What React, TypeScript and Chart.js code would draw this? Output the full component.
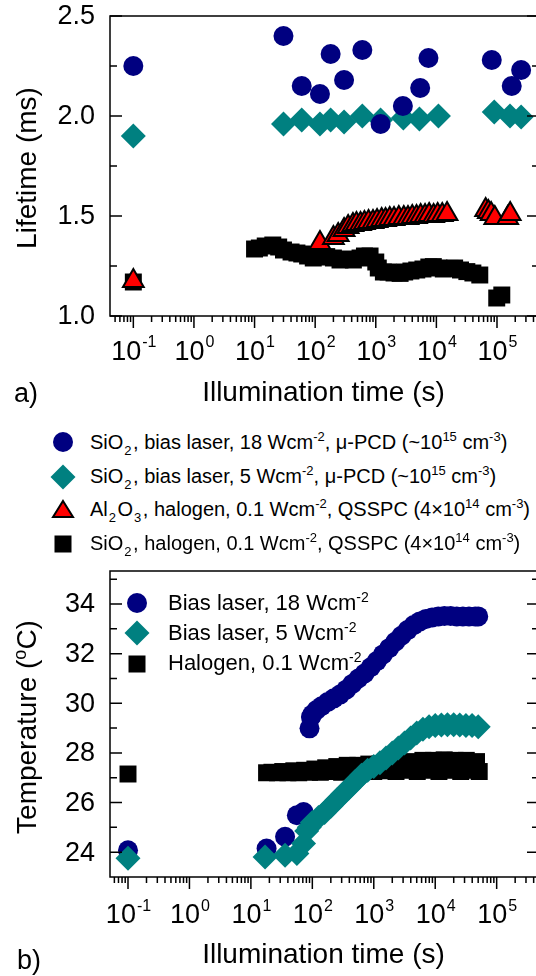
import React, { useEffect, useRef } from "react";
import { Chart, registerables } from "chart.js";

Chart.register(...registerables);

const FONT = '"Liberation Sans", Arial, Helvetica, sans-serif';
const NAVY = "#000080";
const TEAL = "#008080";
const RED = "#ff0000";
const BLACK = "#000000";

// ---------- a) effective lifetime (ms) vs illumination time (s) ----------
const laser18Time = [0.1, 30, 60, 120, 180, 300, 600, 1200, 2800, 5400, 7400, 82000, 175000, 250000];
const laser18Life = [2.25, 2.4, 2.15, 2.11, 2.31, 2.18, 2.33, 1.96, 2.05, 2.14, 2.29, 2.28, 2.15, 2.23];

const laser5Time = [0.1, 30, 60, 120, 180, 300, 600, 1200, 2850, 5250, 10800, 90000, 164000, 250000];
const laser5Life = [1.9, 1.96, 1.98, 1.96, 1.98, 1.97, 2.0, 1.98, 1.99, 1.985, 2.0, 2.02, 2.0, 1.995];

const alHalogenTime = [
  0.1, 120, 200, 240, 300, 350, 420, 480, 560, 650, 760, 900, 1050, 1250, 1450, 1700, 2000, 2400,
  2900, 3400, 4000, 4700, 5500, 6500, 7600, 9000, 10500, 12500, 15000, 65000, 72000, 80000, 92000,
  150000, 165000,
];
const alHalogenLife = [
  1.175, 1.365, 1.39, 1.405, 1.43, 1.445, 1.455, 1.46, 1.46, 1.465, 1.47, 1.47, 1.475, 1.48, 1.48,
  1.485, 1.485, 1.49, 1.49, 1.49, 1.495, 1.495, 1.5, 1.5, 1.505, 1.5, 1.505, 1.505, 1.51, 1.53, 1.52,
  1.51, 1.49, 1.49, 1.51,
];

const sioHalogenTime = [
  0.1, 10, 12, 15, 20, 25, 30, 40, 50, 60, 75, 93, 120, 155, 200, 257, 330, 427, 550, 650, 805, 1000,
  1100, 1335, 1600, 2000, 2520, 3000, 3800, 4740, 6000, 7500, 8900, 11000, 13000, 16800, 20000, 25000,
  31800, 40000, 52000, 99000, 120000,
];
const sioHalogenLife = [
  1.17, 1.335, 1.34, 1.35, 1.355, 1.345, 1.33, 1.32, 1.315, 1.31, 1.3, 1.29, 1.295, 1.297, 1.29, 1.28,
  1.285, 1.28, 1.29, 1.3, 1.3, 1.27, 1.24, 1.22, 1.22, 1.215, 1.213, 1.22, 1.225, 1.23, 1.235, 1.245,
  1.247, 1.24, 1.235, 1.238, 1.24, 1.23, 1.222, 1.215, 1.205, 1.09, 1.105,
];

const lifeMajor = [1.0, 1.5, 2.0, 2.5];
const lifeMinor = [1.25, 1.75, 2.25];

// ---------- b) sample temperature (°C) vs illumination time (s) ----------
const temp18Time = [
  0.1, 18, 36, 56, 72, 90, 95, 100, 117, 141, 178, 224, 282, 355, 447, 562, 708, 891, 1120, 1410,
  1780, 2240, 2820, 3550, 4470, 5620, 7080, 8910, 11200, 14100, 17800, 22400, 28200, 35500, 44700,
  50100,
];
const temp18 = [
  24.08, 24.15, 24.62, 25.49, 25.62, 28.99, 29.45, 29.55, 29.73, 29.88, 30.05, 30.2, 30.35, 30.55,
  30.78, 31.0, 31.2, 31.45, 31.7, 31.97, 32.22, 32.48, 32.72, 32.95, 33.15, 33.3, 33.4, 33.46, 33.5,
  33.52, 33.52, 33.5, 33.5, 33.5, 33.5, 33.5,
];

const temp5Time = [
  0.1, 17, 36, 56, 72, 81, 89, 100, 126, 158, 200, 251, 316, 398, 501, 631, 794, 1000, 1260, 1580,
  2000, 2510, 3160, 3980, 5010, 6310, 7940, 10000, 12600, 15800, 20000, 25100, 31600, 39800, 50100,
];
const temp5 = [
  23.76, 23.81, 23.88, 23.95, 24.35, 24.85, 25.0, 25.2, 25.4, 25.6, 25.85, 26.1, 26.35, 26.6, 26.85,
  27.1, 27.3, 27.45, 27.6, 27.8, 28.0, 28.2, 28.4, 28.6, 28.8, 28.95, 29.05, 29.1, 29.12, 29.13,
  29.13, 29.12, 29.1, 29.1, 29.05,
];

const tempHalogenTime = [
  0.1, 18, 22, 27, 33, 40, 50, 60, 75, 90, 110, 135, 165, 200, 250, 300, 370, 450, 550, 680, 830,
  1000, 1250, 1500, 1850, 2300, 2800, 3400, 4200, 5100, 6300, 7700, 9400, 11500, 14000, 17000, 21000,
  26000, 32000, 39000, 47000, 52000,
];
const tempHalogen = [
  27.15, 27.2, 27.22, 27.2, 27.25, 27.2, 27.28, 27.2, 27.3, 27.22, 27.35, 27.22, 27.4, 27.25, 27.45,
  27.22, 27.5, 27.25, 27.5, 27.25, 27.55, 27.25, 27.55, 27.28, 27.6, 27.25, 27.6, 27.3, 27.65, 27.25,
  27.7, 27.3, 27.7, 27.25, 27.72, 27.3, 27.7, 27.25, 27.7, 27.3, 27.65, 27.25,
];

const tempMajor = [24, 26, 28, 30, 32, 34];
const tempMinor = [25, 27, 29, 31, 33, 35];

const decadeExponents = [-1, 0, 1, 2, 3, 4, 5];

const pts = (xs: number[], ys: number[]) => xs.map((x, i) => ({ x, y: ys[i] }));

type Seg = { t: string; sup?: boolean };

type FrameOpts = {
  yMajor: number[];
  yMinor: number[];
  yDigits: number;
  labelBase: number;
  supBase: number;
  xTitle: string;
  xTitleBase: number;
  yTitle: Seg[];
  yTitleCenter: number;
  panel: string;
  panelX: number;
  panelBase: number;
};

function framePlugin(o: FrameOpts) {
  return {
    id: "frame",
    afterDatasetsDraw(chart: any) {
      const { ctx, chartArea: a, scales } = chart;
      const xs = scales.x;
      const ys = scales.y;
      ctx.save();
      ctx.strokeStyle = BLACK;
      ctx.fillStyle = BLACK;
      ctx.lineWidth = 1.5;
      ctx.strokeRect(a.left, a.top, a.right - a.left, a.bottom - a.top);

      ctx.beginPath();
      const yTick = (v: number, len: number) => {
        const y = ys.getPixelForValue(v);
        ctx.moveTo(a.left, y);
        ctx.lineTo(a.left + len, y);
        ctx.moveTo(a.right, y);
        ctx.lineTo(a.right - len, y);
      };
      o.yMajor.forEach((v) => yTick(v, 12));
      o.yMinor.forEach((v) => yTick(v, 7));

      const lo = Math.floor(Math.log10(xs.min));
      const hi = Math.ceil(Math.log10(xs.max));
      for (let e = lo; e <= hi; e++) {
        for (let k = 1; k <= 9; k++) {
          const v = k * Math.pow(10, e);
          if (v < xs.min || v > xs.max) continue;
          const x = xs.getPixelForValue(v);
          ctx.moveTo(x, a.bottom);
          ctx.lineTo(x, a.bottom + (k === 1 ? 12 : 6));
        }
      }
      ctx.stroke();

      // y tick labels
      ctx.font = `27px ${FONT}`;
      ctx.textAlign = "right";
      ctx.textBaseline = "middle";
      o.yMajor.forEach((v) => {
        ctx.fillText(v.toFixed(o.yDigits), a.left - 15, ys.getPixelForValue(v) + 1);
      });

      // x tick labels: 10 with a raised exponent
      ctx.textAlign = "left";
      ctx.textBaseline = "alphabetic";
      decadeExponents.forEach((e) => {
        const x = xs.getPixelForValue(Math.pow(10, e));
        const exp = String(e);
        ctx.font = `27px ${FONT}`;
        const w1 = ctx.measureText("10").width;
        ctx.font = `16px ${FONT}`;
        const w2 = ctx.measureText(exp).width;
        const x0 = x - (w1 + w2) / 2;
        ctx.font = `27px ${FONT}`;
        ctx.fillText("10", x0, o.labelBase);
        ctx.font = `16px ${FONT}`;
        ctx.fillText(exp, x0 + w1 + 1, o.supBase);
      });

      // axis titles
      ctx.font = `28px ${FONT}`;
      ctx.textAlign = "center";
      ctx.fillText(o.xTitle, (a.left + 539) / 2 - 1, o.xTitleBase);

      ctx.save();
      ctx.translate(28, o.yTitleCenter);
      ctx.rotate(-Math.PI / 2);
      ctx.textAlign = "left";
      ctx.textBaseline = "middle";
      const widths = o.yTitle.map((s) => {
        ctx.font = s.sup ? `18px ${FONT}` : `28px ${FONT}`;
        return ctx.measureText(s.t).width;
      });
      let cx = -widths.reduce((p, c) => p + c, 0) / 2;
      o.yTitle.forEach((s, i) => {
        ctx.font = s.sup ? `18px ${FONT}` : `28px ${FONT}`;
        ctx.fillText(s.t, cx, s.sup ? -7 : 0);
        cx += widths[i];
      });
      ctx.restore();

      // panel letter
      ctx.font = `27px ${FONT}`;
      ctx.textAlign = "left";
      ctx.textBaseline = "alphabetic";
      ctx.fillText(o.panel, o.panelX, o.panelBase);
      ctx.restore();
    },
  };
}

type PanelProps = {
  top: number;
  height: number;
  padding: { left: number; top: number; right: number; bottom: number };
  xMin: number;
  xMax: number;
  yMin: number;
  yMax: number;
  datasets: any[];
  frame: FrameOpts;
};

const CANVAS_W = 560;

function Panel(p: PanelProps) {
  const ref = useRef<HTMLCanvasElement | null>(null);
  useEffect(() => {
    if (!ref.current) return;
    const chart = new Chart(ref.current, {
      type: "scatter",
      data: { datasets: p.datasets },
      options: {
        responsive: false,
        animation: false,
        devicePixelRatio: 1,
        events: [],
        layout: { padding: p.padding },
        plugins: { legend: { display: false }, tooltip: { enabled: false } },
        scales: {
          x: { type: "logarithmic", min: p.xMin, max: p.xMax, display: false },
          y: { type: "linear", min: p.yMin, max: p.yMax, display: false },
        },
      },
      plugins: [framePlugin(p.frame)],
    } as any);
    return () => chart.destroy();
  }, []);
  return (
    <canvas
      ref={ref}
      width={CANVAS_W}
      height={p.height}
      style={{ position: "absolute", left: 0, top: p.top, width: CANVAS_W, height: p.height }}
    />
  );
}

const marker = (style: string, radius: number, fill: string, border = fill, bw = 0, order = 0) => ({
  pointStyle: style,
  pointRadius: radius,
  pointBackgroundColor: fill,
  pointBorderColor: border,
  pointBorderWidth: bw,
  backgroundColor: fill,
  borderColor: border,
  order,
  clip: false,
});

const lifetimeSets = [
  { label: "SiO2, bias laser, 18 Wcm-2", data: pts(laser18Time, laser18Life), ...marker("circle", 10, NAVY, NAVY, 0, 0) },
  { label: "SiO2, bias laser, 5 Wcm-2", data: pts(laser5Time, laser5Life), ...marker("rectRot", 12.5, TEAL, TEAL, 0, 1) },
  { label: "Al2O3, halogen, 0.1 Wcm-2", data: pts(alHalogenTime, alHalogenLife), ...marker("triangle", 12, RED, BLACK, 2, 2) },
  { label: "SiO2, halogen, 0.1 Wcm-2", data: pts(sioHalogenTime, sioHalogenLife), ...marker("rect", 12, BLACK, BLACK, 0, 3) },
];

const temperatureSets = [
  { label: "Bias laser, 18 Wcm-2", data: pts(temp18Time, temp18), ...marker("circle", 10, NAVY, NAVY, 0, 1) },
  { label: "Bias laser, 5 Wcm-2", data: pts(temp5Time, temp5), ...marker("rectRot", 12.5, TEAL, TEAL, 0, 0) },
  { label: "Halogen, 0.1 Wcm-2", data: pts(tempHalogenTime, tempHalogen), ...marker("rect", 12, BLACK, BLACK, 0, 2) },
];

const Sub = ({ children, size }: { children: React.ReactNode; size: number }) => (
  <span style={{ fontSize: size, position: "relative", top: 6, lineHeight: 0, margin: "0 1.5px 0 1px" }}>
    {children}
  </span>
);
const Sup = ({ children, size }: { children: React.ReactNode; size: number }) => (
  <span style={{ fontSize: size, position: "relative", top: -8, lineHeight: 0 }}>{children}</span>
);

function Marker({ kind, x, y }: { kind: string; x: number; y: number }) {
  const s = 30;
  const c = s / 2;
  let shape: React.ReactNode = null;
  if (kind === "circle") shape = <circle cx={c} cy={c} r={10} fill={NAVY} />;
  if (kind === "diamond")
    shape = <polygon points={`${c - 12.5},${c} ${c},${c - 12.5} ${c + 12.5},${c} ${c},${c + 12.5}`} fill={TEAL} />;
  if (kind === "triangle")
    shape = (
      <polygon
        points={`${c},${c - 9} ${c + 10},${c + 7} ${c - 10},${c + 7}`}
        fill={RED}
        stroke={BLACK}
        strokeWidth={2}
        strokeLinejoin="miter"
      />
    );
  if (kind === "square") shape = <rect x={c - 8.5} y={c - 8.5} width={17} height={17} fill={BLACK} />;
  return (
    <svg width={s} height={s} style={{ position: "absolute", left: x - c, top: y - c }}>
      {shape}
    </svg>
  );
}

function Line({ x, y, size, lh, children }: { x: number; y: number; size: number; lh: number; children: React.ReactNode }) {
  return (
    <div
      style={{
        position: "absolute",
        left: x,
        top: y - lh / 2,
        fontSize: size,
        lineHeight: `${lh}px`,
        height: lh,
        whiteSpace: "nowrap",
        fontFamily: FONT,
        color: BLACK,
      }}
    >
      {children}
    </div>
  );
}

export default function App() {
  const topFrame: FrameOpts = {
    yMajor: lifeMajor,
    yMinor: lifeMinor,
    yDigits: 1,
    labelBase: 360,
    supBase: 347,
    xTitle: "Illumination time (s)",
    xTitleBase: 401,
    yTitle: [{ t: "Lifetime (ms)" }],
    yTitleCenter: 168,
    panel: "a)",
    panelX: 14,
    panelBase: 402,
  };
  const bottomTop = 555;
  const bottomFrame: FrameOpts = {
    yMajor: tempMajor,
    yMinor: tempMinor,
    yDigits: 0,
    labelBase: 923 - bottomTop,
    supBase: 911 - bottomTop,
    xTitle: "Illumination time (s)",
    xTitleBase: 963 - bottomTop,
    yTitle: [{ t: "Temperature (" }, { t: "o", sup: true }, { t: "C)" }],
    yTitleCenter: 727 - bottomTop,
    panel: "b)",
    panelX: 17,
    panelBase: 969 - bottomTop,
  };
  const ss = 13;
  return (
    <div
      style={{
        position: "absolute",
        left: 0,
        top: 0,
        width: 536,
        height: 976,
        overflow: "hidden",
        background: "#ffffff",
      }}
    >
      <Panel
        top={0}
        height={420}
        padding={{ left: 110, top: 16, right: CANVAS_W - 539, bottom: 420 - 316 }}
        xMin={Math.pow(10, -1.385)}
        xMax={Math.pow(10, 5.693)}
        yMin={1.0}
        yMax={2.5}
        datasets={lifetimeSets}
        frame={topFrame}
      />
      <Panel
        top={bottomTop}
        height={976 - bottomTop}
        padding={{ left: 110, top: 571 - bottomTop, right: CANVAS_W - 539, bottom: 976 - 877 }}
        xMin={Math.pow(10, -1.293)}
        xMax={Math.pow(10, 5.689)}
        yMin={23}
        yMax={35.33}
        datasets={temperatureSets}
        frame={bottomFrame}
      />

      {/* legend for panel a */}
      <Marker kind="circle" x={63} y={442} />
      <Marker kind="diamond" x={63} y={477} />
      <Marker kind="triangle" x={63} y={510} />
      <Marker kind="square" x={63} y={544} />
      <Line x={90} y={442} size={20} lh={24}>
        SiO<Sub size={ss}>2</Sub>, bias laser, 18 Wcm<Sup size={ss}>-2</Sup>, μ-PCD (~10<Sup size={ss}>15</Sup> cm
        <Sup size={ss}>-3</Sup>)
      </Line>
      <Line x={90} y={476} size={20} lh={24}>
        SiO<Sub size={ss}>2</Sub>, bias laser, 5 Wcm<Sup size={ss}>-2</Sup>, μ-PCD (~10<Sup size={ss}>15</Sup> cm
        <Sup size={ss}>-3</Sup>)
      </Line>
      <Line x={90} y={509} size={20} lh={24}>
        Al<Sub size={ss}>2</Sub>O<Sub size={ss}>3</Sub>, halogen, 0.1 Wcm<Sup size={ss}>-2</Sup>, QSSPC (4×10
        <Sup size={ss}>14</Sup> cm<Sup size={ss}>-3</Sup>)
      </Line>
      <Line x={90} y={543} size={20} lh={24}>
        SiO<Sub size={ss}>2</Sub>, halogen, 0.1 Wcm<Sup size={ss}>-2</Sup>, QSSPC (4×10<Sup size={ss}>14</Sup> cm
        <Sup size={ss}>-3</Sup>)
      </Line>

      {/* legend for panel b */}
      <Marker kind="circle" x={137} y={603} />
      <Marker kind="diamond" x={137} y={633} />
      <Marker kind="square" x={137} y={664} />
      <Line x={168} y={603} size={22} lh={26}>
        Bias laser, 18 Wcm<Sup size={14}>-2</Sup>
      </Line>
      <Line x={168} y={633} size={22} lh={26}>
        Bias laser, 5 Wcm<Sup size={14}>-2</Sup>
      </Line>
      <Line x={168} y={663} size={22} lh={26}>
        Halogen, 0.1 Wcm<Sup size={14}>-2</Sup>
      </Line>
    </div>
  );
}
